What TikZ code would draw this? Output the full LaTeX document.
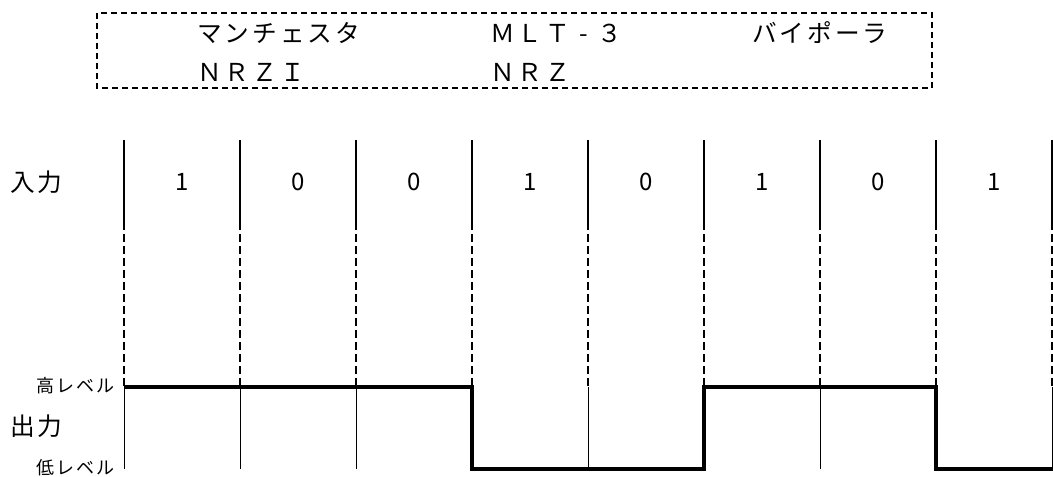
\documentclass[tikz,border=0pt]{standalone}
\usepackage{fontspec}
\setmainfont{Noto Sans CJK JP}
\newfontfamily\jpfont[LetterSpace=12]{Noto Sans CJK JP}
\tikzset{
    bigtext/.style = {font=\jpfont\fontsize{18.5pt}{20pt}\selectfont, inner sep=0pt},
    leveltext/.style = {font=\jpfont\fontsize{13.5pt}{15pt}\selectfont, inner sep=0pt},
    bittext/.style = {font=\fontsize{18pt}{20pt}\selectfont, inner sep=0pt},
}
\begin{document}
\begin{tikzpicture}[x=0.75pt,y=0.75pt,yscale=-1,xscale=1]
            \useasboundingbox (0, 0) rectangle (1053, 476);
            %legend box
            \draw [line width=0.9pt, dash pattern=on 4.5pt off 3pt] (97, 13) rectangle (932, 88);
            \node [bigtext, anchor = west] (manchester) at (197, 33) {マンチェスタ};
            \node [bigtext, anchor = west] (mlt) at (490, 33) {ＭＬＴ\hbox to 1.12em{\hss-\hss}３};
            \node [bigtext, anchor = west] (bipolar) at (752, 33) {バイポーラ};
            \node [bigtext, anchor = west] (nrzi) at (197, 72) {ＮＲＺＩ};
            \node [bigtext, anchor = west] (nrz) at (490, 72) {ＮＲＺ};
            %
            %bit cells
            \foreach \i in {0, ..., 8} {
                \draw [line width=1.4pt] (124 + \i * 116, 140) -- (124 + \i * 116, 222);
                \draw [line width=0.8pt, dash pattern=on 6pt off 3pt] (124 + \i * 116, 222) -- (124 + \i * 116, 387);
            }
            \foreach \i in {0, 1, 2, 4, 6, 8} {
                \draw [line width=0.75pt] (124 + \i * 116, 387) -- (124 + \i * 116, 469);
            }
            %input bits
            \node [bigtext, anchor = west] (input) at (10, 182) {入力};
            \foreach \b [count=\i from 0] in {1, 0, 0, 1, 0, 1, 0, 1} {
                \node [bittext] (bit\i) at (182 + \i * 116, 182) {\b};
            }
            %
            %output signal
            \draw [line width=2.3pt, line join=miter] (124, 387) -- (472, 387) -- (472, 469) -- (704, 469) -- (704, 387) -- (936, 387) -- (936, 469) -- (1053, 469);
            \node [leveltext, anchor = east] (high) at (115, 386) {高レベル};
            \node [bigtext, anchor = west] (output) at (10, 426) {出力};
            \node [leveltext, anchor = east] (low) at (115, 468) {低レベル};
        \end{tikzpicture}
\end{document}
